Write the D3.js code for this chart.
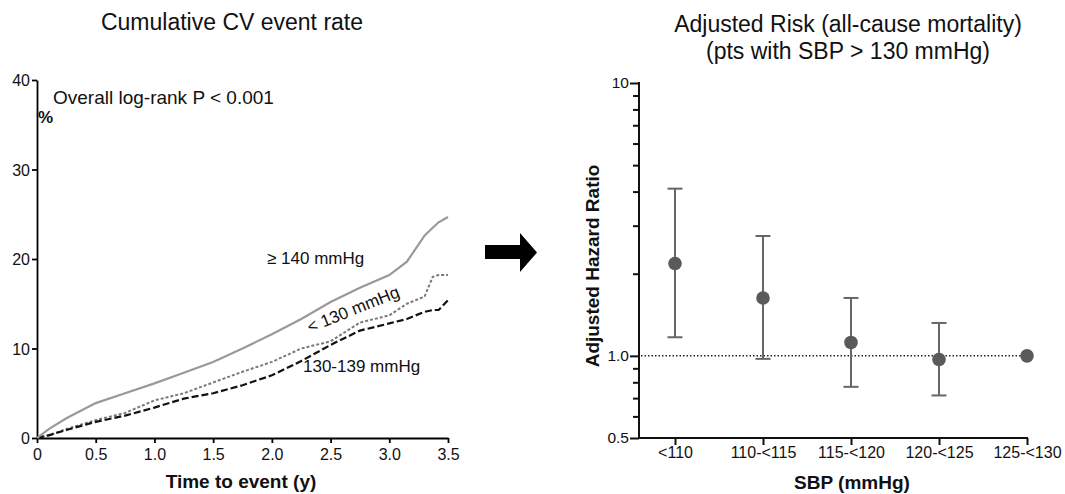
<!DOCTYPE html>
<html><head><meta charset="utf-8">
<script src="https://cdn.jsdelivr.net/npm/d3@7"></script>
<style>body{margin:0;background:#fff}svg{display:block;font-family:"Liberation Sans",Arial,sans-serif}</style>
</head><body>
<svg id="c" width="1065" height="494"></svg>
<script>
// ---- Left panel data (cumulative CV event rate, %) ----
const times = [0, 0.1, 0.25, 0.5, 0.75, 1.0, 1.25, 1.5, 1.75, 2.0, 2.25, 2.5, 2.75, 3.0, 3.15, 3.3, 3.37, 3.42, 3.5];
const ge140 = [0, 1.0, 2.2, 3.9, 5.0, 6.1, 7.3, 8.5, 10.0, 11.6, 13.3, 15.2, 16.8, 18.2, 19.7, 22.6, 23.5, 24.1, 24.7];
const lt130 = [0, 0.3, 1.0, 2.0, 2.8, 4.2, 5.0, 6.2, 7.4, 8.5, 10.0, 10.8, 12.9, 13.7, 15.0, 15.8, 18.0, 18.2, 18.2];
const bp130_139 = [0, 0.3, 0.9, 1.8, 2.5, 3.4, 4.4, 5.0, 5.9, 7.0, 8.6, 10.4, 12.0, 12.8, 13.3, 14.1, 14.3, 14.3, 15.4];
const xTicksLeft = [0, 0.5, 1.0, 1.5, 2.0, 2.5, 3.0, 3.5];
const yTicksLeft = [0, 10, 20, 30, 40];

// ---- Right panel data (adjusted hazard ratio) ----
const sbpCats = ["<110", "110-<115", "115-<120", "120-<125", "125-<130"];
const hr = [2.18, 1.63, 1.12, 0.97, 1.0];
const hrLow = [1.17, 0.975, 0.77, 0.716, null];
const hrHigh = [4.1, 2.75, 1.63, 1.32, null];
const yTicksRightMajor = [0.5, 1.0, 10];
const yTicksRightMinor = [0.6, 0.7, 0.8, 0.9, 2, 3, 4, 5, 6, 7, 8, 9];

const FONT = "Liberation Sans, Arial, sans-serif";
const svg = d3.select("#c");

// ===== Left panel =====
const xL = d3.scaleLinear().domain([0, 3.5]).range([37, 448]);
const yL = d3.scaleLinear().domain([0, 40]).range([438, 80]);

const gxL = svg.append("g").attr("transform", "translate(0,438)")
  .call(d3.axisBottom(xL).tickValues(xTicksLeft).tickFormat(d => d === 0 ? "0" : d3.format(".1f")(d)).tickSize(5).tickSizeOuter(0));
const gyL = svg.append("g").attr("transform", "translate(37,0)")
  .call(d3.axisLeft(yL).tickValues(yTicksLeft).tickSize(5).tickSizeOuter(0));
[gxL, gyL].forEach(g => {
  g.selectAll("path,line").attr("stroke", "#000").attr("stroke-width", 1.8);
  g.selectAll("text").attr("font-size", 16).attr("fill", "#111").attr("font-family", FONT);
});
gxL.selectAll("text").attr("dy", "0.88em");
gyL.selectAll("text").attr("dx", "1px").attr("dy", "0.36em");

const line = vals => d3.line().x((d, i) => xL(times[i])).y(d => yL(d))(vals);
svg.append("path").attr("d", line(lt130)).attr("fill", "none").attr("stroke", "#7a7a7a").attr("stroke-width", 2).attr("stroke-dasharray", "3,2");
svg.append("path").attr("d", line(bp130_139)).attr("fill", "none").attr("stroke", "#111").attr("stroke-width", 2.2).attr("stroke-dasharray", "7,3");
svg.append("path").attr("d", line(ge140)).attr("fill", "none").attr("stroke", "#999").attr("stroke-width", 2.2);

svg.append("text").attr("x", 232).attr("y", 30).attr("text-anchor", "middle").attr("font-size", 23).attr("fill", "#111").text("Cumulative CV event rate");
svg.append("text").attr("x", 53).attr("y", 104).attr("font-size", 19).attr("fill", "#111").text("Overall log-rank P < 0.001");
svg.append("text").attr("x", 38).attr("y", 123).attr("font-size", 17).attr("font-weight", "bold").attr("fill", "#111").text("%");
svg.append("text").attr("x", 241).attr("y", 488).attr("text-anchor", "middle").attr("font-size", 19).attr("font-weight", "bold").attr("fill", "#111").text("Time to event (y)");
svg.append("text").attr("x", 267).attr("y", 264).attr("font-size", 17).attr("fill", "#111").text("≥ 140 mmHg");
svg.append("text").attr("x", 303).attr("y", 372).attr("font-size", 17).attr("fill", "#111").text("130-139 mmHg");
svg.append("text").attr("transform", "translate(310,333) rotate(-22)").attr("font-size", 17).attr("fill", "#111").text("< 130 mmHg");

// ===== Arrow =====
svg.append("path").attr("d", "M485,245 L520,245 L520,233 L537,252.5 L520,272 L520,259 L485,259 Z").attr("fill", "#000");

// ===== Right panel =====
const xR = d3.scalePoint().domain(sbpCats).range([675, 1027]);
const yR = d3.scaleLog().domain([0.5, 10]).range([438, 83]);

svg.append("text").attr("x", 848).attr("y", 32).attr("text-anchor", "middle").attr("font-size", 23).attr("fill", "#111").text("Adjusted Risk (all-cause mortality)");
svg.append("text").attr("x", 848).attr("y", 59).attr("text-anchor", "middle").attr("font-size", 23).attr("fill", "#111").text("(pts with SBP > 130 mmHg)");

// axes
svg.append("line").attr("x1", 639).attr("x2", 1028).attr("y1", 438).attr("y2", 438).attr("stroke", "#111").attr("stroke-width", 2);
svg.append("line").attr("x1", 639).attr("x2", 639).attr("y1", 82).attr("y2", 439).attr("stroke", "#111").attr("stroke-width", 2);
const gxR = svg.append("g").attr("transform", "translate(0,438)")
  .call(d3.axisBottom(xR).tickSize(7).tickSizeOuter(0));
gxR.select(".domain").remove();
gxR.selectAll("line").attr("stroke", "#111").attr("stroke-width", 2);
gxR.selectAll("text").attr("font-size", 16).attr("fill", "#111").attr("dy", "0.62em").attr("font-family", FONT);

const gyR = svg.append("g").attr("transform", "translate(639,0)")
  .call(d3.axisLeft(yR).tickValues(yTicksRightMajor).tickFormat(d => d === 10 ? "10" : d3.format(".1f")(d)).tickSize(9).tickSizeOuter(0));
gyR.select(".domain").remove();
gyR.selectAll("line").attr("stroke", "#111").attr("stroke-width", 2);
gyR.selectAll("text").attr("font-size", 15.5).attr("fill", "#111").attr("dx", "2px").attr("font-family", FONT);
const gyRm = svg.append("g").attr("transform", "translate(639,0)")
  .call(d3.axisLeft(yR).tickValues(yTicksRightMinor).tickFormat("").tickSize(6).tickSizeOuter(0));
gyRm.select(".domain").remove();
gyRm.selectAll("line").attr("stroke", "#111").attr("stroke-width", 2);

// reference line at 1.0
svg.append("line").attr("x1", 641).attr("x2", xR(sbpCats[4])).attr("y1", yR(1)).attr("y2", yR(1))
  .attr("stroke", "#222").attr("stroke-width", 1.5).attr("stroke-dasharray", "1.5,2");

// error bars
const cap = 7.5;
sbpCats.forEach((c, i) => {
  if (hrLow[i] == null) return;
  const x = xR(c);
  const g = svg.append("g").attr("stroke", "#666").attr("stroke-width", 2);
  g.append("line").attr("x1", x).attr("x2", x).attr("y1", yR(hrLow[i])).attr("y2", yR(hrHigh[i]));
  g.append("line").attr("x1", x - cap).attr("x2", x + cap).attr("y1", yR(hrLow[i])).attr("y2", yR(hrLow[i]));
  g.append("line").attr("x1", x - cap).attr("x2", x + cap).attr("y1", yR(hrHigh[i])).attr("y2", yR(hrHigh[i]));
});
svg.selectAll("circle.pt").data(hr).enter().append("circle").attr("class", "pt")
  .attr("cx", (d, i) => xR(sbpCats[i])).attr("cy", d => yR(d)).attr("r", 6.8).attr("fill", "#5a5a5a");

svg.append("text").attr("transform", "translate(599,266) rotate(-90)").attr("text-anchor", "middle")
  .attr("font-size", 19).attr("font-weight", "bold").attr("fill", "#111").text("Adjusted Hazard Ratio");
svg.append("text").attr("x", 852).attr("y", 489).attr("text-anchor", "middle").attr("font-size", 19).attr("font-weight", "bold").attr("fill", "#111").text("SBP (mmHg)");
</script>
</body></html>
